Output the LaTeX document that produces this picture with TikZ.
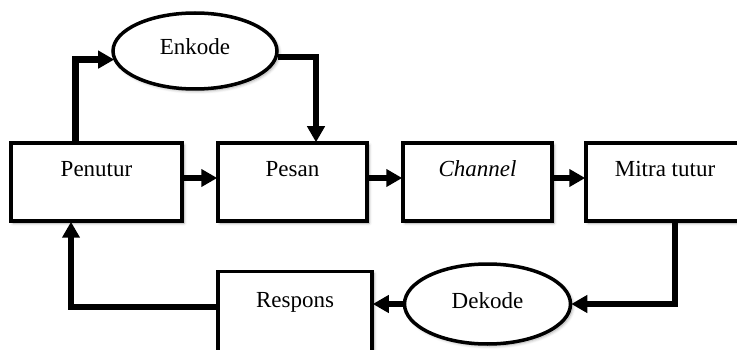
\documentclass[tikz,border=0pt]{standalone}
\usepackage{fontspec}
\setmainfont{Liberation Serif}
\usetikzlibrary{arrows.meta,shapes.geometric,shadows.blur}

\tikzset{
  soft/.style={blur shadow={shadow xshift=2pt,shadow yshift=-2pt,shadow blur steps=6,shadow opacity=35,shadow blur radius=3pt}},
  stepbox/.style={draw,line width=3.5pt,fill=white,rectangle,minimum height=78pt,
    inner sep=0pt,text height=8pt,text depth=18pt,font=\fontsize{23pt}{25pt}\selectfont,soft},
  codeoval/.style={draw,line width=3.5pt,fill=white,ellipse,inner sep=0pt,
    text height=14pt,text depth=6pt,font=\fontsize{23pt}{25pt}\selectfont,soft},
  flow/.style={line width=6.5pt,-{Triangle[length=16pt,width=17pt]},shorten >=-1pt}
}

\begin{document}
\begin{tikzpicture}[x=1pt,y=-1pt]
  \useasboundingbox (0,0) rectangle (737,350);
  \clip (0,0) rectangle (737,350);

  % main chain of boxes
  \node[stepbox,minimum width=171pt] (pen) at (96.5,182) {Penutur};
  \node[stepbox,minimum width=149pt] (pes) at (292.5,182) {Pesan};
  \node[stepbox,minimum width=149pt] (cha) at (477.5,182) {\itshape Channel};
  \node[stepbox,minimum width=158pt] (mit) at (665,182) {Mitra tutur};

  % feedback box
  \node[stepbox,minimum width=154pt,minimum height=81pt] (res) at (295,312) {Respons};

  % encoding / decoding ovals
  \node[codeoval,minimum width=164pt,minimum height=76pt] (enk) at (195,51) {Enkode};
  \node[codeoval,minimum width=166pt,minimum height=80pt] (dek) at (487.5,304) {Dekode};

  % encoding branch
  \draw[flow] ([xshift=-21pt]pen.north) |- (enk.186);
  \draw[flow] (enk.356) -| ([xshift=23.5pt]pes.north);

  % forward arrows
  \draw[flow] ([yshift=4pt]pen.east) -- ([yshift=4pt]pes.west);
  \draw[flow] ([yshift=4pt]pes.east) -- ([yshift=4pt]cha.west);
  \draw[flow] ([yshift=4pt]cha.east) -- ([yshift=4pt]mit.west);

  % feedback loop
  \draw[flow] ([xshift=10pt]mit.south) |- (dek.east);
  \draw[flow] (dek.west) -- (dek.west -| res.east);
  \draw[flow] ([yshift=5pt]res.west) -| ([xshift=-25.5pt]pen.south);
\end{tikzpicture}
\end{document}
